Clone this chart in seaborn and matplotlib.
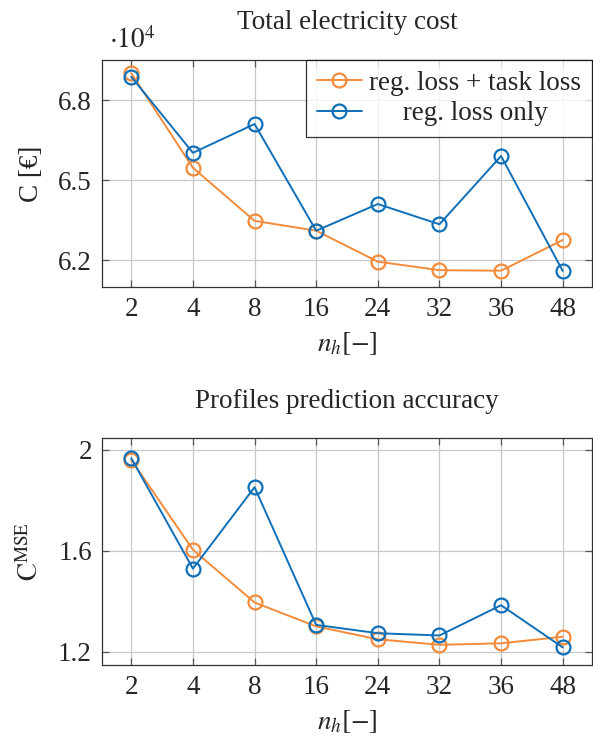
import numpy as np
import pandas as pd
import matplotlib
matplotlib.use("Agg")
import matplotlib.pyplot as plt
import seaborn as sns

# ---- data ----
nh = ["2", "4", "8", "16", "24", "32", "36", "48"]
# total electricity cost, in units of 1e4 EUR
cost_task = [6.90, 6.546, 6.347, 6.31, 6.194, 6.162, 6.160, 6.275]
cost_reg = [6.887, 6.602, 6.71, 6.31, 6.41, 6.334, 6.59, 6.159]
# profiles prediction accuracy (MSE)
mse_task = [1.960, 1.604, 1.395, 1.300, 1.249, 1.227, 1.233, 1.259]
mse_reg = [1.967, 1.529, 1.852, 1.306, 1.273, 1.264, 1.384, 1.217]
labels = ["reg. loss + task loss", "reg. loss only"]
top_yticks = [6.2, 6.5, 6.8]
bot_yticks = [1.2, 1.6, 2.0]
bot_yticklabels = ["1.2", "1.6", "2"]

sns.set_theme(style="white")
plt.rcParams["font.family"] = ["Liberation Serif", "DejaVu Serif"]
plt.rcParams["mathtext.fontset"] = "stix"

ORANGE = "#F38B3A"
BLUE = "#0F6FB8"
FS = 19.5

fig = plt.figure(figsize=(5.93, 7.37), dpi=100)
ax1 = fig.add_axes([0.1715, 0.6106, 0.8273, 0.3080])
ax2 = fig.add_axes([0.1715, 0.0977, 0.8273, 0.3076])

pos = np.arange(len(nh))


def draw(ax, ya, yb):
    df = pd.DataFrame({"x": np.concatenate([pos, pos]),
                       "y": np.concatenate([ya, yb]),
                       "s": [labels[0]] * len(pos) + [labels[1]] * len(pos)})
    for lab, col in zip(labels, [ORANGE, BLUE]):
        sub = df[df["s"] == lab]
        sns.lineplot(data=sub, x="x", y="y", ax=ax, color=col, marker="o",
                     markersize=10, markerfacecolor="none",
                     markeredgecolor=col, markeredgewidth=1.6, linewidth=1.4,
                     label=lab, legend=False)
    ax.set_xlim(-0.48, 7.48)
    ax.set_xticks(pos)
    ax.set_xticklabels(nh)
    ax.grid(True, color="#c8c8c8", linewidth=0.9)
    ax.set_axisbelow(True)
    ax.tick_params(direction="in", length=5, width=0.9, color="#555555",
                   top=True, right=True, bottom=True, left=True,
                   labelsize=FS, pad=7)
    for sp in ax.spines.values():
        sp.set_color("#333333")
        sp.set_linewidth(0.9)
    ax.set_xlabel(r"$n_h[-]$", fontsize=FS, labelpad=6)


draw(ax1, cost_task, cost_reg)
ax1.set_ylim(6.099, 6.95)
ax1.set_yticks(top_yticks)
ax1.set_yticklabels(["6.2", "6.5", "6.8"])
ax1.set_ylabel("C [€]", fontsize=FS, labelpad=10)
ax1.set_title("Total electricity cost", fontsize=FS, pad=22)
ax1.text(0.015, 1.025, r"$\cdot 10^4$", transform=ax1.transAxes, fontsize=FS,
         ha="left", va="bottom")

draw(ax2, mse_task, mse_reg)
ax2.set_ylim(1.147, 2.046)
ax2.set_yticks(bot_yticks)
ax2.set_yticklabels(bot_yticklabels)
ax2.set_ylabel(r"$\mathrm{C}^{\mathrm{MSE}}$", fontsize=FS, labelpad=10)
ax2.set_title("Profiles prediction accuracy", fontsize=FS, pad=22)

h, l = ax1.get_legend_handles_labels()
l = [labels[0], "     " + labels[1]]
leg = ax1.legend(h, l, loc="upper right", fontsize=FS, frameon=True,
                 fancybox=False, borderaxespad=0, handlelength=1.67,
                 handletextpad=0.28, borderpad=0.4, labelspacing=0.2)
leg.get_frame().set_edgecolor("black")
leg.get_frame().set_linewidth(0.9)

fig.savefig("out.png", dpi=100)
